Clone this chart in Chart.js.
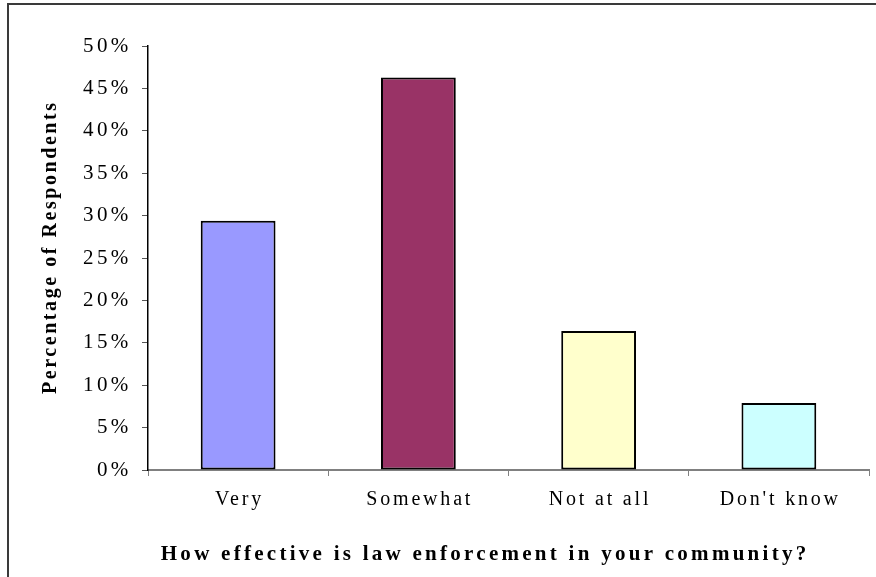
<!DOCTYPE html>
<html>
<head>
<meta charset="utf-8">
<script src="https://cdn.jsdelivr.net/npm/chart.js@4/dist/chart.umd.min.js"></script>
<style>
  html, body { margin: 0; padding: 0; background: #ffffff; }
  #wrap { position: relative; width: 876px; height: 577px; overflow: hidden; }
  canvas { display: block; }
</style>
</head>
<body>
<div id="wrap"><canvas id="c" width="876" height="577"></canvas></div>
<script>
const categories = ['Very', 'Somewhat', 'Not at all', "Don't know"];
const percentages = [29.4, 46.3, 16.4, 7.9];
const barColors = ['#9999FF', '#993366', '#FFFFCC', '#CCFFFF'];
const yTickMin = 0, yTickMax = 50, yTickStep = 5;
const xTitle = 'How effective is law enforcement in your community?';
const yTitle = 'Percentage of Respondents';

const FONT = "'Liberation Serif', 'Times New Roman', serif";

// spacing / offsets used when the scales draw their text
const textStyle = {
  x: { labels: { spacing: 2.8, dx: 1.4, dy: 0 }, title: { spacing: 3.27, dx: -23.4, dy: 0 } },
  y: { labels: { spacing: 3.4, dx: 0, dy: 0 }, title: { spacing: 2.56, dx: 0, dy: -10.8 } }
};

function wrap(scale, name, st) {
  const orig = scale[name];
  scale[name] = function () {
    const ctx = this.ctx;
    const prev = ctx.letterSpacing;
    ctx.save();
    ctx.translate(st.dx, st.dy);
    if ('letterSpacing' in ctx) ctx.letterSpacing = st.spacing + 'px';
    const r = orig.apply(this, arguments);
    ctx.restore();
    if ('letterSpacing' in ctx) ctx.letterSpacing = prev || '0px';
    return r;
  };
}

const textPlugin = {
  id: 'textSpacing',
  beforeDraw(chart) {
    for (const id of ['x', 'y']) {
      const s = chart.scales[id];
      if (!s || s._spacingPatched) continue;
      s._spacingPatched = true;
      wrap(s, 'drawLabels', textStyle[id].labels);
      wrap(s, 'drawTitle', textStyle[id].title);
    }
    const ctx = chart.ctx;
    ctx.save();
    ctx.strokeStyle = '#3a3a3a';
    ctx.lineWidth = 2;
    ctx.beginPath();
    ctx.moveTo(8, 900);
    ctx.lineTo(8, 4);
    ctx.lineTo(900, 4);
    ctx.stroke();
    ctx.restore();
  }
};

new Chart(document.getElementById('c'), {
  type: 'bar',
  data: {
    labels: categories,
    datasets: [{
      data: percentages,
      backgroundColor: barColors,
      borderColor: '#000000',
      borderWidth: 2,
      borderSkipped: false,
      barPercentage: 0.415,
      categoryPercentage: 1.0
    }]
  },
  options: {
    responsive: false,
    animation: false,
    devicePixelRatio: 1,
    layout: { padding: { left: 0, top: 46, right: 7, bottom: 0 } },
    plugins: {
      legend: { display: false },
      tooltip: { enabled: false },
      title: { display: false }
    },
    scales: {
      x: {
        offset: true,
        grid: {
          display: true,
          drawOnChartArea: false,
          drawTicks: true,
          tickLength: 6,
          color: '#808080',
          lineWidth: 1,
          offset: true
        },
        border: { display: true, color: '#808080', width: 2 },
        ticks: {
          color: '#000000',
          padding: 12,
          font: { family: FONT, size: 20 },
          maxRotation: 0,
          autoSkip: false
        },
        title: {
          display: true,
          text: xTitle,
          color: '#000000',
          font: { family: FONT, size: 21, weight: 'bold' },
          padding: { top: 0, bottom: 9.8 }
        },
        afterFit(scale) { scale.height = 107; }
      },
      y: {
        min: yTickMin,
        max: yTickMax,
        grid: {
          display: true,
          drawOnChartArea: false,
          drawTicks: true,
          tickLength: 6,
          color: '#555555',
          lineWidth: 1
        },
        border: { display: true, color: '#000000', width: 1.5 },
        ticks: {
          stepSize: yTickStep,
          color: '#000000',
          padding: 10.3,
          font: { family: FONT, size: 21 },
          callback: (v) => v + '%'
        },
        title: {
          display: true,
          text: yTitle,
          color: '#000000',
          font: { family: FONT, size: 20, weight: 'bold' },
          padding: { top: 39, bottom: 0 }
        },
        afterFit(scale) { scale.width = 148; }
      }
    }
  },
  plugins: [textPlugin]
});
</script>
</body>
</html>
